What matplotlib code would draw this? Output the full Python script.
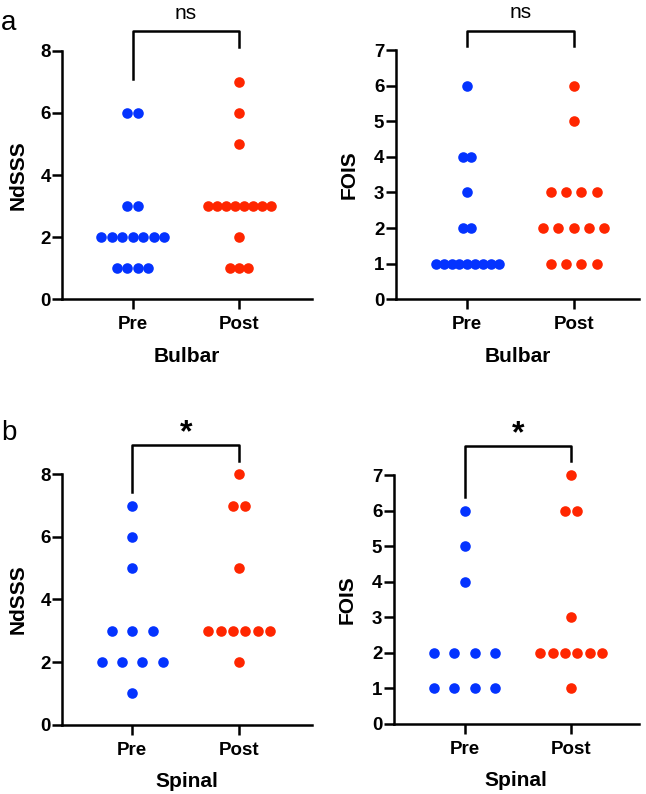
import numpy as np
import matplotlib
matplotlib.use("Agg")
import matplotlib.pyplot as plt

plt.rcParams['font.family'] = ['Liberation Sans', 'DejaVu Sans']

groups = ["Pre", "Post"]

# bulbar
bulbar_ndsss_pre = [6, 6, 3, 3, 2, 2, 2, 2, 2, 2, 2, 1, 1, 1, 1]
bulbar_ndsss_post = [7, 6, 5, 3, 3, 3, 3, 3, 3, 3, 3, 2, 1, 1, 1]
bulbar_fois_pre = [6, 4, 4, 3, 2, 2, 1, 1, 1, 1, 1, 1, 1, 1, 1]
bulbar_fois_post = [6, 5, 3, 3, 3, 3, 2, 2, 2, 2, 2, 1, 1, 1, 1]

# spinal
spinal_ndsss_pre = [7, 6, 5, 3, 3, 3, 2, 2, 2, 2, 1]
spinal_ndsss_post = [8, 7, 7, 5, 3, 3, 3, 3, 3, 3, 2]
spinal_fois_pre = [6, 5, 4, 2, 2, 2, 2, 1, 1, 1, 1]
spinal_fois_post = [7, 6, 6, 3, 2, 2, 2, 2, 2, 2, 1]

signif = ["ns", "ns", "*", "*"]

BLUE = "#0433FF"
RED = "#FF2600"


def spread(vals, step):
    # center identical values side by side like a column scatter
    vals = np.asarray(vals)
    xs = np.zeros(len(vals))
    for v in np.unique(vals):
        idx = np.where(vals == v)[0]
        n = len(idx)
        xs[idx] = (np.arange(n) - (n - 1) / 2) * step
    return xs


def panel(rect, pre, post, steps, ylab, xlab, ymax, xlim, sig, bracket, sig_y, ylab_x):
    ax = fig.add_axes(rect)
    for i, (vals, col, st) in enumerate(zip([pre, post], [BLUE, RED], steps)):
        ax.scatter(i + spread(vals, st), vals, s=58, color=col, linewidths=0,
                   clip_on=False, zorder=3)
    ax.set_xlim(*xlim)
    ax.set_ylim(0, ymax)
    ax.set_yticks(range(0, ymax + 1, 2 if ymax == 8 else 1))
    ax.set_xticks([0, 1])
    ax.set_xticklabels(groups)
    for s in ["top", "right"]:
        ax.spines[s].set_visible(False)
    for s in ["left", "bottom"]:
        ax.spines[s].set_linewidth(1.8)
    ax.tick_params(width=1.8, length=7.2, labelsize=13.5)
    ax.tick_params(axis="y", pad=1)
    ax.tick_params(axis="x", pad=5)
    for t in ax.get_xticklabels() + ax.get_yticklabels():
        t.set_fontweight("bold")
    ax.set_ylabel(ylab, fontsize=15, fontweight="bold")
    ax.set_xlabel(xlab, fontsize=15, fontweight="bold")
    ax.yaxis.set_label_coords(ylab_x, 0.5)
    ax.xaxis.set_label_coords(0.5, -0.19)
    top, l_end, r_end = bracket
    ax.plot([0, 0, 1, 1], [l_end, top, top, r_end], color="black", lw=1.8,
            clip_on=False)
    if sig == "ns":
        ax.text(0.5, sig_y, sig, ha="center", va="center", fontsize=15)
    else:
        ax.text(0.5, sig_y, sig, ha="center", va="center", fontsize=23,
                fontweight="bold")
    return ax


fig = plt.figure(figsize=(6.46, 7.94), dpi=100)

panel([0.0964, 0.6230, 0.3861, 0.3131], bulbar_ndsss_pre, bulbar_ndsss_post,
      (0.098, 0.085), "NdSSS", "Bulbar", 8, (-0.66, 1.68), signif[0],
      (8.63, 7.1, 8.12), 9.2, -0.137)
panel([0.6125, 0.6230, 0.3766, 0.3140], bulbar_fois_pre, bulbar_fois_post,
      (0.074, 0.144), "FOIS", "Bulbar", 7, (-0.673, 1.614), signif[1],
      (7.54, 7.1, 7.1), 8.05, -0.152)
panel([0.0964, 0.0873, 0.3861, 0.3154], spinal_ndsss_pre, spinal_ndsss_post,
      (0.19, 0.115), "NdSSS", "Spinal", 8, (-0.654, 1.677), signif[2],
      (8.95, 7.43, 8.42), 9.3, -0.137)
panel([0.6094, 0.0885, 0.3797, 0.3128], spinal_fois_pre, spinal_fois_post,
      (0.192, 0.116), "FOIS", "Spinal", 7, (-0.666, 1.635), signif[3],
      (7.84, 6.4, 7.4), 8.15, -0.15)

fig.text(0.002, 0.962, "a", fontsize=20, va="baseline")
fig.text(0.002, 1 - 440 / 794, "b", fontsize=20, va="baseline")

fig.savefig("out.png", dpi=100)
